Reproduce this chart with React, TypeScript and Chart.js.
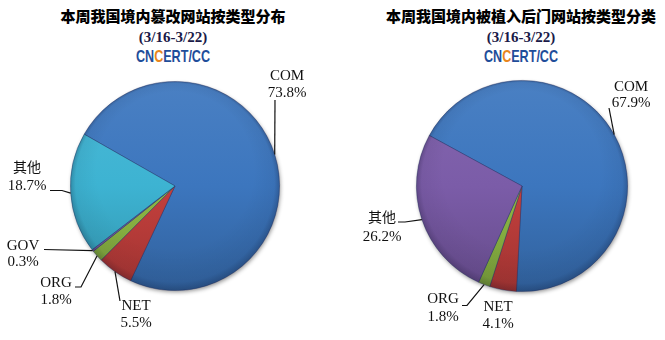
import React, { useEffect, useRef } from "react";
import { Chart, registerables } from "chart.js";

Chart.register(...registerables);

// ---- data ----
const leftTitle = "本周我国境内篡改网站按类型分布";
const rightTitle = "本周我国境内被植入后门网站按类型分类";
const dateRange = "(3/16-3/22)";
const logoParts = ["CN", "C", "ERT/CC"];

const leftCategories = ["COM", "NET", "ORG", "GOV", "其他"];
const leftValues = [73.8, 5.5, 1.8, 0.3, 18.7];

const rightCategories = ["COM", "NET", "ORG", "其他"];
const rightValues = [67.9, 4.1, 1.8, 26.2];

// ---- styles / layout ----
const leftColors = ["#3c76be", "#c4403d", "#8fba45", "#7b5ca8", "#3db3d2"];
const rightColors = ["#3c76be", "#c4403d", "#8fba45", "#7b5ca8"];

type LabelSpec = { text: [number, number]; gap: number; leader: [number, number][] | null };

const leftLabelLayout: LabelSpec[] = [
  { text: [287, 76], gap: 17, leader: [[275, 100]] },
  { text: [136, 306], gap: 17, leader: [[120, 301]] },
  { text: [56, 283], gap: 17, leader: [[75, 287], [81, 287]] },
  { text: [23, 246], gap: 16, leader: [[44, 249.5]] },
  { text: [27, 167], gap: 19, leader: [[50, 190.5], [62, 190.5]] },
];

const rightLabelLayout: LabelSpec[] = [
  { text: [299, 87], gap: 16.5, leader: [[277, 108]] },
  { text: [166, 307], gap: 17, leader: null },
  { text: [111, 299], gap: 18, leader: [[130, 305.5], [135, 305.5]] },
  { text: [50, 217], gap: 20, leader: [[66, 222], [73, 222]] },
];

function adjust(hex: string, amt: number): string {
  const n = parseInt(hex.slice(1), 16);
  let r = (n >> 16) & 255, g = (n >> 8) & 255, b = n & 255;
  const f = (c: number) =>
    Math.round(amt >= 0 ? c + (255 - c) * amt : c * (1 + amt));
  r = f(r); g = f(g); b = f(b);
  return `rgb(${r},${g},${b})`;
}

function shade(chart: any, base: string): any {
  const area = chart.chartArea;
  if (!area) return base;
  const cx = (area.left + area.right) / 2;
  const cy = (area.top + area.bottom) / 2;
  const r = Math.min(area.right - area.left, area.bottom - area.top) / 2;
  const g = chart.ctx.createLinearGradient(cx, cy - r, cx, cy + r);
  g.addColorStop(0, adjust(base, 0.07));
  g.addColorStop(0.5, base);
  g.addColorStop(1, adjust(base, -0.18));
  return g;
}

function makeLabelPlugin(layout: LabelSpec[]) {
  return {
    id: "sliceLabels",
    beforeDatasetsDraw(chart: any) {
      const meta = chart.getDatasetMeta(0);
      const arc = meta.data[0];
      if (!arc) return;
      const { x, y, outerRadius } = arc.getProps(["x", "y", "outerRadius"], true);
      const ctx = chart.ctx;
      ctx.save();
      ctx.beginPath();
      ctx.arc(x, y, outerRadius - 0.5, 0, Math.PI * 2);
      ctx.fillStyle = "#3a5f96";
      ctx.shadowColor = "rgba(0,0,0,0.45)";
      ctx.shadowBlur = 4;
      ctx.shadowOffsetX = 1;
      ctx.shadowOffsetY = 2;
      ctx.fill();
      ctx.restore();
    },
    afterDatasetsDraw(chart: any) {
      const ctx = chart.ctx;
      const meta = chart.getDatasetMeta(0);
      const labels = chart.data.labels as string[];
      const values = chart.data.datasets[0].data as number[];
      // soft rim shading over whole pie
      const a0 = meta.data[0];
      if (a0) {
        const { x, y, outerRadius } = a0.getProps(["x", "y", "outerRadius"], true);
        const rg = ctx.createRadialGradient(x, y - outerRadius * 0.15, outerRadius * 0.75, x, y, outerRadius);
        rg.addColorStop(0, "rgba(0,0,0,0)");
        rg.addColorStop(0.8, "rgba(0,0,20,0.05)");
        rg.addColorStop(1, "rgba(0,0,20,0.22)");
        ctx.save();
        ctx.beginPath();
        ctx.arc(x, y, outerRadius, 0, Math.PI * 2);
        ctx.fillStyle = rg;
        ctx.fill();
        ctx.restore();
      }
      meta.data.forEach((arc: any, i: number) => {
        const spec = layout[i];
        if (!spec) return;
        const { x, y, startAngle, endAngle, outerRadius } = arc.getProps(
          ["x", "y", "startAngle", "endAngle", "outerRadius"],
          true
        );
        const mid = (startAngle + endAngle) / 2;
        const ax = x + Math.cos(mid) * outerRadius;
        const ay = y + Math.sin(mid) * outerRadius;
        ctx.save();
        if (spec.leader) {
          ctx.beginPath();
          ctx.strokeStyle = "#111";
          ctx.lineWidth = 1.2;
          ctx.moveTo(spec.leader[0][0], spec.leader[0][1]);
          for (let k = 1; k < spec.leader.length; k++) ctx.lineTo(spec.leader[k][0], spec.leader[k][1]);
          ctx.lineTo(ax, ay);
          ctx.stroke();
        }
        ctx.fillStyle = "#111";
        ctx.textAlign = "center";
        ctx.textBaseline = "middle";
        const cjk = /[\u4e00-\u9fff]/.test(labels[i]);
        ctx.font = cjk ? '14px "Noto Sans CJK SC"' : '15px "Liberation Serif"';
        ctx.fillText(labels[i], spec.text[0], spec.text[1]);
        ctx.font = '15px "Liberation Serif"';
        ctx.fillText(values[i].toFixed(1) + "%", spec.text[0], spec.text[1] + spec.gap);
        ctx.restore();
      });
    },
  };
}

type PieProps = {
  categories: string[];
  values: number[];
  colors: string[];
  rotation: number;
  layout: LabelSpec[];
  left: number;
  width: number;
  padding: { left: number; right: number; top: number; bottom: number };
};

function Pie({ categories, values, colors, rotation, layout, left, width, padding }: PieProps) {
  const ref = useRef<HTMLCanvasElement>(null);
  useEffect(() => {
    if (!ref.current) return;
    const chart = new Chart(ref.current, {
      type: "pie",
      data: {
        labels: categories,
        datasets: [
          {
            data: values,
            backgroundColor: (c: any) => shade(c.chart, colors[c.dataIndex]),
            borderWidth: 0.8,
            borderColor: "rgba(40,50,100,0.5)",
          },
        ],
      },
      options: {
        responsive: false,
        animation: false,
        rotation,
        layout: { padding },
        plugins: { legend: { display: false }, tooltip: { enabled: false } },
      } as any,
      plugins: [makeLabelPlugin(layout)],
    });
    return () => chart.destroy();
  }, []);
  return (
    <canvas
      ref={ref}
      width={width}
      height={340}
      style={{ position: "absolute", left, top: 0, width, height: 340 }}
    />
  );
}

function Heading({ cx, title }: { cx: number; title: string }) {
  const base: React.CSSProperties = {
    position: "absolute",
    left: cx - 200,
    width: 400,
    textAlign: "center",
    whiteSpace: "nowrap",
    lineHeight: "20px",
    height: 20,
  };
  return (
    <>
      <div
        style={{
          ...base,
          top: 6,
          fontFamily: '"Noto Sans CJK SC", sans-serif',
          fontWeight: 900,
          fontSize: 15,
          color: "#000",
        }}
      >
        {title}
      </div>
      <div
        style={{
          ...base,
          top: 27,
          fontFamily: '"Liberation Serif", serif',
          fontWeight: 700,
          fontSize: 15,
          color: "#1a1a48",
        }}
      >
        {dateRange}
      </div>
      <div
        style={{
          ...base,
          top: 47,
          fontFamily: '"Liberation Sans", sans-serif',
          fontWeight: 700,
          fontSize: 17,
          color: "#1f4d9a",
          transform: "scaleX(0.74)",
        }}
      >
        {logoParts[0]}
        <span style={{ color: "#e8861c" }}>{logoParts[1]}</span>
        {logoParts[2]}
      </div>
    </>
  );
}

export default function App() {
  return (
    <div
      style={{
        position: "absolute",
        left: 0,
        top: 0,
        width: 665,
        height: 340,
        background: "#fff",
        overflow: "hidden",
      }}
    >
      <Heading cx={173} title={leftTitle} />
      <Heading cx={521} title={rightTitle} />
      <Pie
        categories={leftCategories}
        values={leftValues}
        colors={leftColors}
        rotation={-60.3}
        layout={leftLabelLayout}
        left={0}
        width={332}
        padding={{ left: 70, right: 52, top: 81, bottom: 49 }}
      />
      <Pie
        categories={rightCategories}
        values={rightValues}
        colors={rightColors}
        rotation={-61.4}
        layout={rightLabelLayout}
        left={332}
        width={333}
        padding={{ left: 84, right: 37, top: 80, bottom: 48 }}
      />
    </div>
  );
}
